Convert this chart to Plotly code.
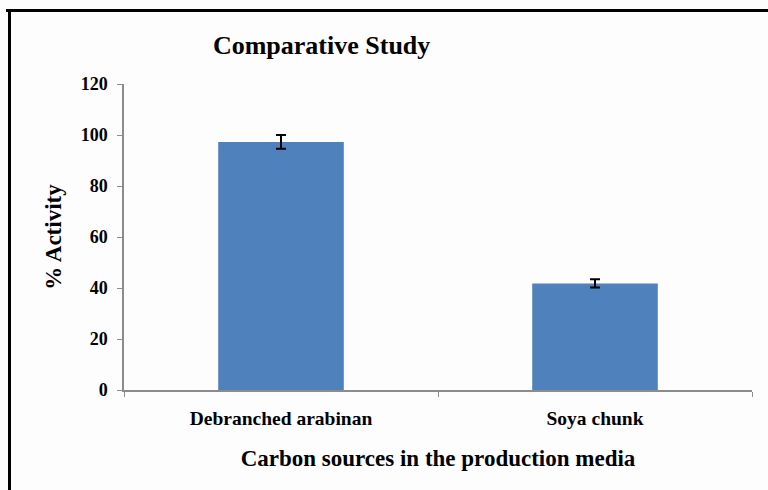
import plotly.graph_objects as go

categories = ["Debranched arabinan", "Soya chunk"]
activity = [97.3, 41.8]
errors = [2.7, 1.6]
y_ticks = [0, 20, 40, 60, 80, 100, 120]

W, H = 768, 490
L, R, T, B = 124, 16, 84, 100
pw, ph = W - L - R, H - T - B

def px_x(x):
    return (x - L) / pw

def px_y(y):
    return (H - B - y) / ph

font_family = "Liberation Serif, Times New Roman, serif"

fig = go.Figure()
fig.add_trace(go.Bar(
    x=categories, y=activity,
    marker=dict(color="#4f81bd", line=dict(width=0)),
    error_y=dict(type="data", array=errors, visible=True, color="black",
                 thickness=2, width=5),
))

frame = dict(type="line", xref="paper", yref="paper", line=dict(color="black", width=3))
fig.add_shape(**frame, x0=px_x(6), x1=px_x(768), y0=px_y(10.5), y1=px_y(10.5))
fig.add_shape(**frame, x0=px_x(9.5), x1=px_x(9.5), y0=px_y(9), y1=px_y(490))

fig.update_layout(
    width=W, height=H,
    margin=dict(l=L, r=R, t=T, b=B),
    paper_bgcolor="#fdfdfd", plot_bgcolor="#fdfdfd",
    bargap=0.6,
    showlegend=False,
    font=dict(family=font_family, color="black"),
    title=dict(text="<b>Comparative Study</b>", x=px_x(387), xanchor="center",
               y=1 - 45 / H, yanchor="middle", font=dict(size=26, family=font_family)),
    xaxis=dict(
        showline=True, linecolor="#8c8c8c", linewidth=1.5,
        ticks="outside", tickson="boundaries", ticklen=5, tickcolor="#8c8c8c",
        ticklabelstandoff=10,
        tickfont=dict(size=19.5, family=font_family, weight="bold"),
        title=dict(text="<b>Carbon sources in the production media</b>",
                   font=dict(size=23, family=font_family), standoff=22),
        showgrid=False,
    ),
    yaxis=dict(
        range=[0, 120], tickvals=y_ticks,
        showline=True, linecolor="#8c8c8c", linewidth=1.5,
        ticks="outside", ticklen=5, tickcolor="#8c8c8c",
        ticklabelstandoff=6,
        tickfont=dict(size=18, family=font_family, weight="bold"),
        title=dict(text="<b>% Activity</b>", font=dict(size=23, family=font_family), standoff=13),
        showgrid=False, zeroline=False,
    ),
)

fig.write_html("out.html", config={"displayModeBar": False},
               post_script="document.body.style.margin='0';")
